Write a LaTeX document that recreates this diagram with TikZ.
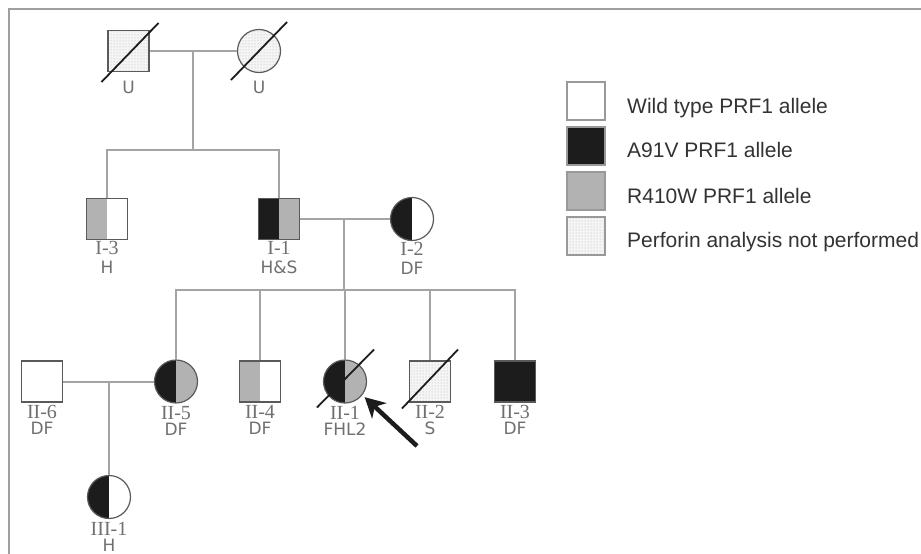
\documentclass[tikz,border=0pt]{standalone}
\usepackage{fontspec}
\setmainfont{Liberation Serif}
\newfontfamily\legfont{Liberation Sans}
\newfontfamily\subfont{DejaVu Sans}
\usetikzlibrary{patterns,calc,arrows.meta}
\definecolor{lin}{HTML}{A4A4A4}
\definecolor{outl}{HTML}{5A5A5A}
\definecolor{blk}{HTML}{1C1C1C}
\definecolor{gry}{HTML}{B2B2B2}
\definecolor{lab}{HTML}{707070}
\definecolor{legtxt}{HTML}{333333}
\tikzset{
  male/.style={rectangle, draw=outl, line width=1.2pt, fill=white, minimum size=41pt, inner sep=0pt},
  female/.style={circle, draw=outl, line width=1.2pt, fill=white, minimum size=43pt, inner sep=0pt},
  halves/.style 2 args={path picture={
      \fill[#1] (path picture bounding box.north west) rectangle (path picture bounding box.south);
      \fill[#2] (path picture bounding box.north) rectangle (path picture bounding box.south east);}},
  nodata/.style={preaction={fill=gray!8}, pattern=dots, pattern color=gray!60},
  conn/.style={draw=lin, line width=2pt},
  slash/.style={draw=blk, line width=1.8pt},
  rn/.style={font=\fontsize{20}{20}\selectfont, text=lab, inner sep=0pt},
  sb/.style={font=\subfont\fontsize{17}{17}\selectfont, text=lab, inner sep=0pt},
  legbox/.style={rectangle, draw=gray!80, line width=1.2pt, minimum size=38pt, inner sep=0pt},
  legtext/.style={anchor=base west, font=\legfont\fontsize{21}{21}\selectfont, text=legtxt, inner sep=0pt},
  arrowline/.style={draw=blk, line width=4.5pt, -{Stealth[length=20pt, width=21pt, inset=6pt]}}
}
\begin{document}
\begin{tikzpicture}[x=1pt, y=-1pt]
\useasboundingbox (0,0) rectangle (921,554);
\fill[white] (0,0) rectangle (921,554);
\draw[draw=gray!75, line width=1.2pt] (921,9) -- (9,9) -- (9,554);

% Generation I
\node[male, nodata] (Iu1) at (128.5,51) {};
\node[female, nodata] (Iu2) at (259,51) {};
\draw[slash] ($(Iu1)+(-27,31)$) -- ($(Iu1)+(30,-28)$);
\draw[slash] ($(Iu2)+(-28,29)$) -- ($(Iu2)+(28,-29)$);
\node[sb] (Iu1l) at (128.5,87) {U};
\node[sb] (Iu2l) at (259,87) {U};

% Generation II (parents)
\node[male, halves={gry}{white}] (I3) at (107,219) {};
\node[male, halves={blk}{gry}] (I1) at (279,219) {};
\node[female, halves={blk}{white}] (I2) at (412,219) {};
\node[rn] (I3a) at ($(I3.south)+(0,8)$) {I-3};
\node[sb] (I3b) at ($(I3.south)+(0,27)$) {H};
\node[rn] (I1a) at ($(I1.south)+(0,8)$) {I-1};
\node[sb] (I1b) at ($(I1.south)+(0,27)$) {H\&S};
\node[rn] (I2a) at ($(I2.south)+(0,8)$) {I-2};
\node[sb] (I2b) at ($(I2.south)+(0,27)$) {DF};

% connectors gen I -> II
\coordinate (m1) at (193,51);
\coordinate (s1) at (193,150);
\draw[conn] (Iu1.east) -- (Iu2.west);
\draw[conn] (m1) -- (s1);
\draw[conn] (I3.north) |- (s1) -| (I1.north);

% children row
\node[male] (II6) at (42,381.5) {};
\node[female, halves={blk}{gry}] (II5) at (176,381.5) {};
\node[male, halves={gry}{white}] (II4) at (260,381.5) {};
\node[female, halves={blk}{gry}] (II1) at (345,381.5) {};
\node[male, nodata] (II2) at (430,381.5) {};
\node[male, fill=blk] (II3) at (515,381.5) {};
\draw[slash] ($(II1)+(-28,26)$) -- ($(II1)+(29,-32)$);
\draw[slash] ($(II2)+(-28,27)$) -- ($(II2)+(28,-32)$);

\foreach \n/\a/\b in {II6/II-6/DF, II5/II-5/DF, II4/II-4/DF, II1/II-1/FHL2, II2/II-2/S, II3/II-3/DF}{
  \node[rn] (\n a) at ($(\n.south)+(0,9)$) {\a};
  \node[sb] (\n b) at ($(\n.south)+(0,26)$) {\b};
}

% connectors gen II -> children
\coordinate (m2) at (344,219);
\coordinate (s2) at (344,290);
\draw[conn] (I1.east) -- (I2.west);
\draw[conn] (m2) -- (s2);
\draw[conn] (II5.north) |- (s2) -| (II3.north);
\draw[conn] (II4.north) -- (II4.north |- s2);
\draw[conn] (II1.north) -- (II1.north |- s2);
\draw[conn] (II2.north) -- (II2.north |- s2);

% generation III
\node[female, halves={blk}{white}] (III1) at (109,497) {};
\node[rn] (III1a) at ($(III1.south)+(0,10)$) {III-1};
\node[sb] (III1b) at ($(III1.south)+(0,26)$) {H};
\coordinate (m3) at (109,381.5);
\draw[conn] (II6.east) -- (II5.west);
\draw[conn] (m3) -- (III1.north);

% proband arrow
\coordinate (arrtail) at (417,446);
\draw[arrowline, shorten >=3pt] (arrtail) -- (II1.-38);

% legend
\node[legbox, fill=white] (lw) at (586,101) {};
\node[legbox, fill=blk] (la) at (586,146) {};
\node[legbox, fill=gry] (lr) at (586,191) {};
\node[legbox, nodata] (lp) at (586,236) {};
\node[legtext] (lwt) at (627,113) {Wild type PRF1 allele};
\node[legtext] (lat) at (627,157.5) {A91V PRF1 allele};
\node[legtext] (lrt) at (627,203) {R410W PRF1 allele};
\node[legtext] (lpt) at (627,247) {Perforin analysis not performed};
\end{tikzpicture}
\end{document}
